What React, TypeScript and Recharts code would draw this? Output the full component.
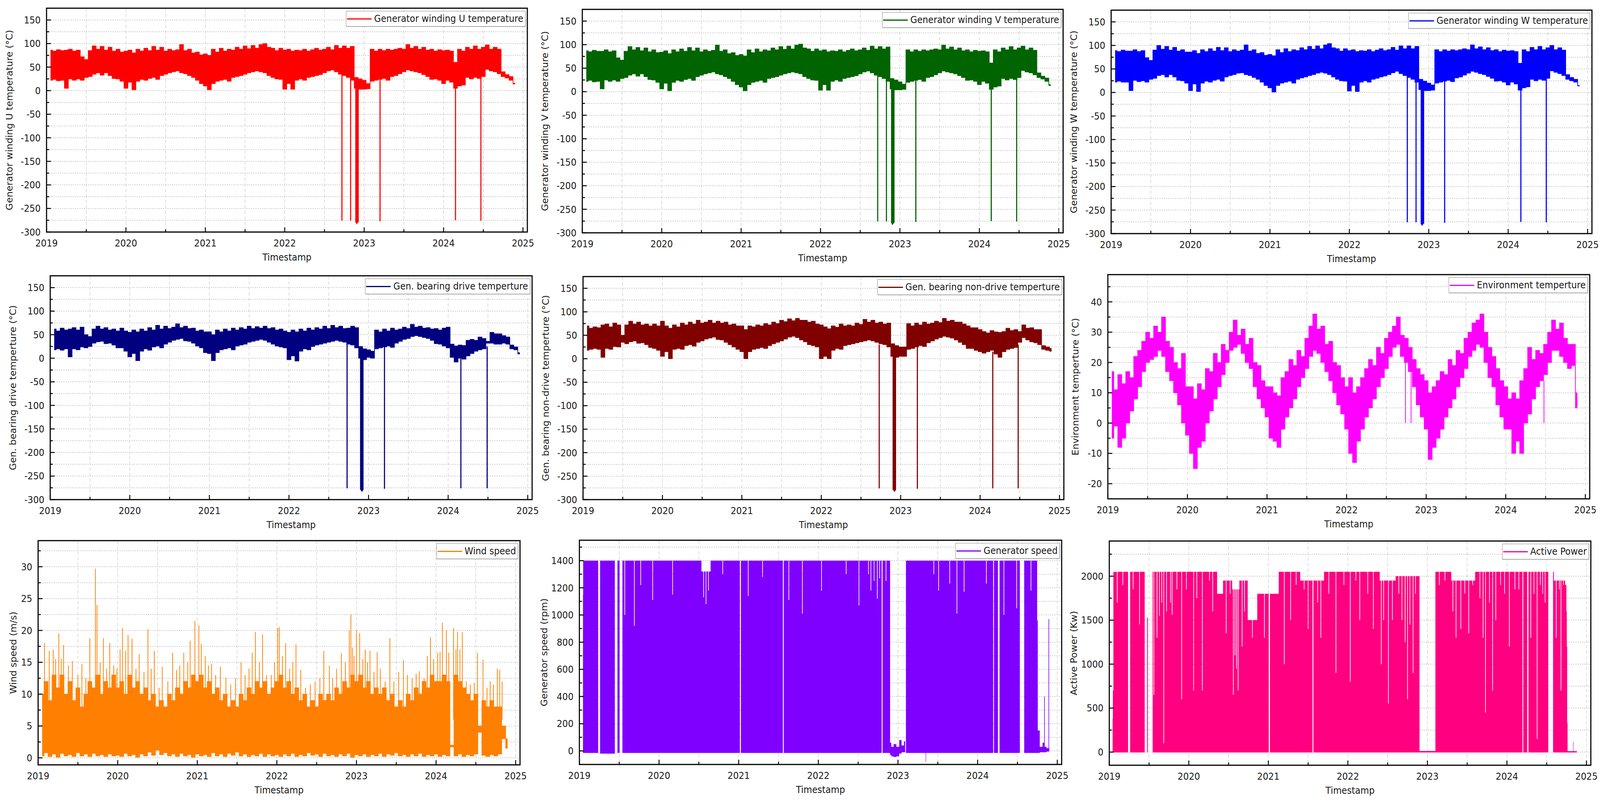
import {
  Area,
  CartesianGrid,
  ComposedChart,
  Legend,
  Line,
  ReferenceArea,
  XAxis,
  YAxis,
} from 'recharts';

const PAGE_W = 4366;
const PAGE_H = 2071;
const FONT = '"DejaVu Sans", Verdana, sans-serif';
const INK = '#1a1a1a';
const X_DOMAIN: [number, number] = [2019, 2025.055];

// sampling times of the envelope arrays (every 0.05 year, 2019.05 .. 2024.90)
const TIMES = Array.from({ length: 118 }, (_, i) => Math.round((2019.05 + i * 0.05) * 100) / 100);

const YEAR_TICKS = [2019, 2019.5, 2020, 2020.5, 2021, 2021.5, 2022, 2022.5, 2023, 2023.5, 2024, 2024.5, 2025];
const TEMP_TICKS = [-300, -275, -250, -225, -200, -175, -150, -125, -100, -75, -50, -25, 0, 25, 50, 75, 100, 125, 150];
const ENV_TICKS = [-20, -15, -10, -5, 0, 5, 10, 15, 20, 25, 30, 35, 40, 45];
const WIND_TICKS = [0, 2.5, 5, 7.5, 10, 12.5, 15, 17.5, 20, 22.5, 25, 27.5, 30, 32.5];
const SPEED_TICKS = [0, 100, 200, 300, 400, 500, 600, 700, 800, 900, 1000, 1100, 1200, 1300, 1400, 1500];
const POWER_TICKS = [0, 250, 500, 750, 1000, 1250, 1500, 1750, 2000, 2250];

// ---- winding U (rows: one year each, 20 samples) ----
const U_HI = [
  86, 84, 87, 85, 86, 88, 84, 86, 72, 66, 85, 95, 88, 94, 86, 92, 84, 88, 82, 84,
  86, 80, 88, 84, 90, 85, 94, 86, 92, 84, 88, 85, 87, 98, 85, 88, 80, 82, 76, 78,
  75, 88, 82, 90, 84, 88, 86, 92, 88, 95, 89, 96, 90, 98, 100, 92, 90, 85, 90, 86,
  88, 84, 86, 85, 88, 84, 87, 90, 86, 88, 92, 87, 96, 90, 95, 90, 94, 28, 25, 22,
  15, 88, 84, 88, 85, 88, 86, 88, 90, 88, 98, 90, 94, 88, 92, 86, 88, 84, 87, 85,
  86, 84, 60, 88, 84, 92, 88, 95, 88, 92, 97, 88, 92, 88, 40, 34, 30, 16,
];
const U_LO = [
  22, 24, 21, 22, 5, 25, 22, 25, 22, 28, 30, 35, 38, 33, 38, 32, 26, 25, 20, 5,
  18, 2, 20, 24, 22, 26, 28, 24, 32, 35, 38, 40, 42, 38, 36, 32, 28, 22, 15, 10,
  2, 15, 20, 22, 24, 20, 28, 30, 32, 35, 38, 40, 42, 40, 38, 32, 28, 25, 24, 3,
  15, 3, 22, 25, 22, 28, 30, 32, 34, 38, 42, 44, 40, 35, 32, 28, 22, 5, 3, 3,
  4, 20, 22, 24, 26, 22, 30, 32, 36, 40, 44, 42, 40, 38, 34, 30, 24, 25, 22, 15,
  22, 18, 5, 10, 12, 28, 25, 28, 26, 30, 45, 42, 40, 36, 30, 27, 22, 14,
];
const U_DROPS = [
  [2022.72, 40, -276], [2022.83, 30, -276], [2022.895, 20, -280], [2022.905, 20, -283],
  [2022.915, 20, -281], [2022.925, 20, -279], [2023.2, 30, -277], [2024.15, 20, -275], [2024.47, 30, -276],
];

// ---- winding V ----
const V_HI = [
  87, 85, 88, 86, 86, 89, 85, 87, 72, 67, 86, 96, 89, 94, 87, 93, 85, 89, 83, 84,
  87, 81, 89, 85, 91, 86, 94, 87, 93, 85, 89, 86, 88, 99, 86, 89, 81, 83, 77, 79,
  76, 89, 83, 91, 85, 89, 87, 93, 89, 96, 90, 97, 91, 99, 101, 93, 91, 86, 91, 87,
  89, 85, 87, 86, 89, 85, 88, 91, 87, 89, 93, 88, 97, 91, 96, 91, 95, 28, 25, 21,
  16, 89, 85, 89, 86, 89, 87, 89, 91, 89, 99, 91, 95, 89, 93, 87, 89, 85, 88, 86,
  87, 85, 61, 89, 85, 93, 89, 96, 89, 93, 97, 89, 93, 88, 40, 33, 29, 15,
];
const V_LO = [
  22, 24, 21, 22, 6, 25, 22, 25, 22, 28, 30, 35, 38, 33, 38, 32, 26, 25, 20, 6,
  18, 2, 20, 24, 22, 26, 28, 24, 32, 35, 38, 40, 42, 38, 36, 32, 28, 22, 15, 10,
  2, 15, 20, 22, 24, 20, 28, 30, 32, 35, 38, 40, 42, 40, 38, 32, 28, 25, 24, 3,
  15, 3, 22, 25, 22, 28, 30, 32, 34, 38, 42, 44, 40, 35, 32, 28, 22, 6, 4, 4,
  5, 20, 22, 24, 26, 22, 30, 32, 36, 40, 44, 42, 40, 38, 34, 30, 24, 25, 22, 15,
  22, 18, 5, 10, 12, 28, 25, 28, 26, 30, 45, 42, 40, 36, 30, 27, 22, 13,
];
const V_DROPS = [
  [2022.72, 40, -276], [2022.83, 30, -276], [2022.895, 20, -280], [2022.905, 20, -283],
  [2022.915, 20, -281], [2022.925, 20, -279], [2023.2, 30, -277], [2024.15, 20, -275], [2024.47, 30, -276],
];

// ---- winding W ----
const W_HI = [
  89, 87, 90, 88, 88, 91, 87, 89, 74, 68, 90, 100, 92, 98, 90, 96, 88, 91, 86, 86,
  89, 83, 91, 87, 93, 88, 96, 89, 95, 87, 91, 88, 90, 101, 88, 91, 83, 85, 79, 81,
  78, 91, 85, 93, 87, 91, 89, 95, 91, 98, 92, 99, 93, 101, 104, 95, 93, 88, 93, 89,
  91, 87, 89, 88, 91, 87, 90, 93, 89, 91, 96, 90, 99, 93, 99, 93, 98, 28, 24, 20,
  16, 91, 87, 91, 88, 91, 89, 91, 93, 91, 101, 93, 97, 91, 95, 89, 91, 87, 90, 88,
  89, 87, 62, 91, 87, 96, 91, 98, 91, 95, 100, 91, 95, 90, 38, 32, 28, 15,
];
const W_LO = [
  22, 24, 22, 22, 4, 26, 23, 25, 22, 28, 30, 36, 38, 33, 38, 33, 26, 25, 20, 4,
  18, 2, 20, 24, 22, 26, 28, 24, 33, 36, 38, 41, 42, 38, 36, 32, 28, 22, 15, 10,
  1, 15, 20, 22, 24, 20, 28, 31, 33, 36, 38, 41, 43, 41, 38, 33, 28, 25, 24, 3,
  15, 2, 22, 25, 22, 28, 30, 33, 35, 38, 42, 45, 40, 36, 32, 28, 22, 6, 4, 4,
  5, 20, 22, 24, 26, 23, 31, 33, 37, 41, 45, 43, 40, 38, 34, 30, 24, 25, 22, 16,
  22, 18, 5, 10, 12, 28, 25, 28, 26, 30, 46, 43, 40, 36, 28, 25, 22, 14,
];
const W_DROPS = [
  [2022.73, 40, -276], [2022.84, 30, -276], [2022.905, 20, -280], [2022.915, 20, -283],
  [2022.925, 20, -281], [2022.935, 20, -279], [2023.2, 30, -277], [2024.16, 20, -275], [2024.48, 30, -276],
];

// ---- generator bearing, drive end ----
const DRIVE_HI = [
  62, 58, 64, 60, 62, 65, 60, 66, 50, 46, 62, 68, 62, 65, 60, 62, 58, 64, 58, 55,
  60, 56, 62, 58, 65, 60, 70, 62, 68, 63, 66, 73, 65, 68, 63, 64, 58, 60, 56, 56,
  50, 60, 56, 62, 58, 64, 60, 65, 62, 68, 63, 67, 64, 68, 63, 65, 60, 62, 58, 55,
  60, 56, 62, 58, 64, 60, 65, 62, 68, 63, 70, 65, 68, 63, 64, 68, 65, 25, 20, 18,
  15, 60, 56, 62, 58, 64, 60, 62, 66, 63, 72, 66, 68, 64, 65, 62, 63, 60, 64, 66,
  30, 26, 28, 27, 38, 40, 38, 45, 42, 36, 55, 52, 52, 48, 45, 28, 24, 12,
];
const DRIVE_LO = [
  18, 20, 17, 20, 3, 20, 18, 24, 22, 25, 32, 35, 36, 31, 32, 28, 22, 22, 15, 3,
  10, -5, 15, 20, 17, 24, 26, 22, 30, 34, 38, 40, 42, 37, 36, 32, 26, 22, 12, 10,
  -5, 12, 18, 20, 22, 18, 26, 28, 30, 34, 36, 38, 40, 38, 34, 30, 26, 24, 22, -3,
  5, -6, 15, 20, 18, 25, 28, 30, 32, 34, 36, 38, 36, 34, 30, 28, 22, 0, -3, 2,
  0, 20, 22, 24, 26, 23, 32, 36, 40, 42, 46, 48, 46, 44, 42, 38, 31, 30, 26, 22,
  2, -8, 0, -2, 5, 10, 15, 18, 20, 32, 32, 30, 30, 32, 30, 20, 18, 9,
];
const DRIVE_DROPS = [
  [2022.73, 30, -276], [2022.9, 15, -279], [2022.91, 15, -282], [2022.92, 15, -283],
  [2022.93, 15, -280], [2023.2, 30, -277], [2024.16, 10, -276], [2024.49, 25, -276],
];

// ---- generator bearing, non-drive end ----
const NONDRIVE_HI = [
  70, 65, 68, 66, 72, 74, 68, 76, 72, 50, 72, 80, 74, 78, 72, 74, 70, 74, 70, 80,
  70, 65, 72, 68, 76, 72, 78, 74, 82, 76, 78, 82, 76, 80, 76, 78, 72, 74, 70, 70,
  62, 70, 68, 72, 70, 75, 72, 78, 75, 82, 79, 85, 81, 86, 82, 82, 78, 80, 74, 72,
  68, 64, 70, 67, 74, 70, 72, 70, 76, 73, 84, 78, 82, 76, 78, 74, 76, 32, 28, 25,
  25, 75, 70, 76, 72, 78, 74, 76, 80, 77, 86, 80, 82, 78, 78, 74, 70, 66, 66, 62,
  58, 55, 60, 57, 56, 58, 65, 60, 62, 58, 72, 65, 66, 62, 62, 28, 25, 22,
];
const NONDRIVE_LO = [
  18, 20, 22, 20, 3, 22, 20, 26, 25, 35, 32, 36, 38, 33, 34, 30, 24, 22, 18, 5,
  15, 0, 20, 22, 20, 28, 30, 27, 35, 38, 42, 44, 46, 41, 40, 35, 30, 25, 20, 15,
  0, 15, 20, 22, 24, 22, 28, 32, 35, 38, 42, 46, 48, 45, 40, 36, 30, 28, 25, 0,
  5, 0, 18, 22, 20, 28, 30, 32, 34, 36, 38, 40, 38, 35, 32, 30, 25, 5, 3, 5,
  5, 20, 22, 25, 28, 26, 34, 38, 42, 45, 48, 46, 44, 40, 35, 30, 22, 22, 18, 15,
  12, 15, 18, 10, 3, 15, 20, 22, 24, 35, 45, 40, 36, 34, 30, 20, 18, 16,
];
const NONDRIVE_DROPS = [
  [2022.73, 30, -276], [2022.905, 15, -279], [2022.915, 15, -282], [2022.925, 15, -283],
  [2022.935, 15, -280], [2023.21, 30, -277], [2024.16, 15, -276], [2024.48, 30, -276],
];

// ---- environment ----
const ENV_HI = [
  17, 11, 16, 13, 17, 15, 22, 24, 27, 30, 28, 32, 30, 35, 27, 25, 20, 18, 23, 12,
  12, 8, 13, 11, 18, 17, 23, 20, 26, 24, 30, 34, 29, 31, 26, 28, 20, 19, 14, 12,
  12, 10, 9, 15, 17, 21, 19, 24, 22, 28, 32, 36, 31, 32, 26, 27, 20, 19, 15, 12,
  15, 10, 12, 15, 18, 21, 19, 25, 23, 28, 30, 32, 35, 29, 28, 25, 21, 18, 16, 14,
  10, 12, 14, 17, 16, 21, 19, 24, 23, 28, 30, 33, 34, 36, 30, 25, 22, 18, 14, 12,
  8, 10, 8, 14, 18, 25, 21, 24, 23, 26, 30, 34, 31, 33, 28, 26, 26, 10,
];
const ENV_LO = [
  -5, -1, -8, -5, 0, 4, 8, 12, 17, 20, 21, 22, 24, 22, 17, 14, 10, 6, 0, -4,
  -10, -15, -8, -6, 0, 4, 8, 12, 16, 20, 24, 25, 26, 23, 20, 18, 12, 8, 5, 2,
  -5, -6, -8, -2, 2, 5, 8, 12, 15, 18, 22, 24, 23, 20, 17, 14, 10, 6, 3, -2,
  -10, -13, -6, -2, 2, 5, 8, 12, 15, 18, 22, 25, 26, 22, 20, 17, 12, 6, 2, -2,
  -12, -8, -5, -2, 2, 5, 8, 12, 15, 18, 22, 24, 26, 25, 20, 15, 12, 6, 2, -2,
  -2, -10, -6, -10, 0, 3, 8, 12, 14, 16, 20, 24, 24, 22, 20, 18, 19, 5,
];
const ENV_DROPS = [[2022.74, 24, 0], [2022.81, 20, 0], [2024.48, 14, 0]];

// ---- wind speed ----
const WIND_HI = [
  10, 12, 9, 13, 11, 13, 10, 12, 9, 11, 8, 10, 12, 11, 13, 10, 12, 11, 13, 11,
  12, 10, 13, 11, 12, 10, 11, 9, 10, 8, 9, 8, 10, 9, 11, 10, 12, 11, 13, 12,
  13, 11, 12, 10, 11, 9, 10, 8, 9, 8, 10, 9, 11, 10, 12, 11, 12, 10, 11, 12,
  13, 11, 12, 10, 11, 9, 10, 8, 9, 8, 10, 9, 10, 9, 11, 10, 12, 11, 13, 12,
  13, 11, 12, 10, 11, 10, 11, 9, 10, 8, 9, 8, 10, 9, 11, 10, 12, 11, 13, 12,
  12, 13, 12, 2, 13, 12, 11, 10, 9, 10, 5, 9, 8, 9, 8, 8, 5, 3,
];
const WIND_LO = [
  0.3, 0.8, 0.2, 0.6, 0.1, 0.7, 0.3, 0.5, 0.2, 0.8, 0.3, 0.6, 0.2, 0.7, 0.3, 0.5, 0.2, 0.6, 0.3, 0.4,
  0.2, 0.7, 0.3, 0.5, 0.1, 0.6, 0.3, 0.9, 0.4, 1.2, 0.5, 0.8, 0.3, 0.6, 0.2, 0.7, 0.3, 0.5, 0.1, 0.6,
  0.3, 0.5, 0.2, 0.8, 0.3, 0.6, 0.2, 0.7, 0.4, 0.9, 0.3, 0.6, 0.2, 0.5, 0.3, 0.7, 0.2, 0.6, 0.3, 0.5,
  0.2, 0.6, 0.3, 0.7, 0.2, 0.5, 0.3, 0.8, 0.4, 0.6, 0.2, 0.7, 0.3, 0.5, 0.2, 0.6, 0.3, 0.7, 0.1, 0.5,
  0.3, 0.6, 0.2, 0.5, 0.3, 0.7, 0.2, 0.6, 0.4, 0.8, 0.3, 0.5, 0.2, 0.6, 0.3, 0.7, 0.2, 0.5, 0.3, 0.6,
  0.2, 0.5, 0.3, 1.7, 0.3, 0.6, 0.2, 0.5, 0.3, 0.6, 4, 0.4, 0.2, 0.5, 0.3, 0.6, 3, 1.5,
];
const WIND_PEAK_BASE = 6;
const WIND_PEAKS = [
  [2019.08, 18], [2019.14, 16.8], [2019.19, 17], [2019.22, 15.5], [2019.26, 19.5], [2019.29, 15.6],
  [2019.32, 17.7], [2019.38, 14.5], [2019.43, 15.2], [2019.5, 13], [2019.55, 14.7], [2019.6, 12.5],
  [2019.65, 18.8], [2019.72, 29.7], [2019.74, 24], [2019.78, 15], [2019.82, 18.8], [2019.86, 14],
  [2019.9, 18], [2019.95, 14.5], [2019.99, 14], [2020.03, 17], [2020.06, 20.4], [2020.1, 16.8],
  [2020.13, 19.3], [2020.18, 18.7], [2020.23, 14], [2020.27, 16.3], [2020.33, 13.5], [2020.38, 20.2],
  [2020.42, 14], [2020.46, 16.8], [2020.52, 11], [2020.56, 14.3], [2020.63, 12], [2020.69, 16.5],
  [2020.74, 13.8], [2020.78, 14.5], [2020.83, 16.5], [2020.88, 15], [2020.91, 18.4], [2020.97, 21.5],
  [2021.02, 20.8], [2021.05, 17.9], [2021.1, 16], [2021.14, 14.5], [2021.18, 14.8], [2021.23, 13],
  [2021.29, 14.3], [2021.36, 12.6], [2021.42, 11.5], [2021.48, 12.5], [2021.55, 15], [2021.6, 13],
  [2021.65, 14], [2021.69, 16.5], [2021.73, 19.8], [2021.78, 15], [2021.82, 19.4], [2021.87, 13],
  [2021.93, 13], [2021.97, 15], [2022.01, 20.4], [2022.03, 20.5], [2022.07, 16], [2022.11, 18],
  [2022.16, 14], [2022.2, 15], [2022.24, 17.8], [2022.3, 13.8], [2022.36, 11], [2022.42, 11.5],
  [2022.48, 12], [2022.54, 12.5], [2022.59, 16.8], [2022.66, 14.5], [2022.7, 12.5], [2022.75, 14],
  [2022.81, 16.4], [2022.86, 15], [2022.91, 20], [2022.93, 22.5], [2022.95, 17.3], [2022.97, 16],
  [2023.0, 20], [2023.04, 19.6], [2023.08, 15.5], [2023.11, 17], [2023.14, 15], [2023.17, 16.8],
  [2023.22, 13.5], [2023.26, 16.6], [2023.3, 14], [2023.36, 12], [2023.42, 18.8], [2023.47, 12],
  [2023.53, 13.5], [2023.59, 15.3], [2023.64, 13], [2023.7, 12.5], [2023.75, 13.2], [2023.79, 13.6],
  [2023.85, 12.5], [2023.89, 16], [2023.93, 18.9], [2023.97, 15.5], [2024.02, 16.5], [2024.05, 16.6],
  [2024.08, 21.2], [2024.13, 20], [2024.16, 16.5], [2024.22, 20.4], [2024.25, 17], [2024.27, 19.8],
  [2024.3, 17], [2024.33, 19.7], [2024.38, 12], [2024.43, 11.5], [2024.48, 11.8], [2024.52, 16.5],
  [2024.59, 15.4], [2024.64, 11], [2024.68, 12], [2024.72, 11.5], [2024.77, 14], [2024.8, 13.8], [2024.83, 12],
];

// ---- generator speed: [t, lo, hi] point, [t, v] notch from the current top, [t] break ----
const SPEED_BAND = [
  [2019.045, -15, 1150], [2019.05, -15, 1400], [2019.236, -15, 1400], [2019.237],
  [2019.26, -20, 1400], [2019.445, -20, 1400], [2019.446],
  [2019.478, -15, 1400], [2019.505, -15, 1400], [2019.506],
  [2019.54, -15, 1400], [2019.57, 1000], [2019.69, 920], [2019.77, 1220], [2019.92, 1110],
  [2020.17, 1150], [2020.53, -15, 1400], [2020.535, -15, 1320], [2020.56, 1130], [2020.59, 1080],
  [2020.62, 1180], [2020.645, -15, 1320], [2020.65, -15, 1400], [2020.8, 1300], [2021.015, -15, 1400], [2021.016],
  [2021.028, -15, 1400], [2021.12, 1140], [2021.3, 1280], [2021.555, -15, 1400], [2021.556],
  [2021.566, -15, 1400], [2021.63, 1110], [2021.8, 1010], [2022.04, 1180], [2022.35, 1300],
  [2022.51, 1070], [2022.63, 1300], [2022.66, 1180], [2022.7, 1250], [2022.74, 1120], [2022.77, 1270],
  [2022.795, -15, 1400], [2022.796],
  [2022.806, -15, 1400], [2022.85, 1250], [2022.9, -15, 1400],
  [2022.902, -30, 60], [2022.93, -40, 30], [2022.96, -45, 50], [2023.0, -40, 30], [2023.03, -20, 80],
  [2023.06, -10, 40], [2023.09, -10, 70], [2023.095],
  [2023.1, -15, 1400], [2023.345, -15, 1400], [2023.35, -80, 1400], [2023.355, -15, 1400],
  [2023.45, 1300], [2023.51, 1180], [2023.65, 1230], [2023.74, 1010], [2023.83, 1170], [2024.11, 1230],
  [2024.195, -15, 1400], [2024.196],
  [2024.205, -15, 1400], [2024.255, -15, 1400], [2024.256],
  [2024.275, -15, 1400], [2024.33, 1000], [2024.49, 1050], [2024.53, -15, 1400], [2024.531],
  [2024.585, -15, 1400], [2024.67, 1180], [2024.745, -15, 1400], [2024.75, -15, 960],
  [2024.76, -15, 150], [2024.8, -10, 30], [2024.83, -10, 60], [2024.84, -10, 400], [2024.845, -10, 30],
  [2024.885, -5, 20], [2024.895, -5, 970], [2024.9, -5, 20],
];

// ---- active power (same notation) ----
const POWER_BAND = [
  [2019.042, -5, 380], [2019.048, -5, 700], [2019.055, -5, 2050], [2019.1, 1700], [2019.17, 1900],
  [2019.236, -5, 2050], [2019.237],
  [2019.262, -5, 2050], [2019.3, 1850], [2019.38, 1450], [2019.445, -5, 2050], [2019.446],
  [2019.475, -5, 1530], [2019.485, -5, 1530], [2019.486],
  [2019.545, -5, 2050], [2019.56, 650], [2019.6, 1300], [2019.63, 1550], [2019.66, 1700], [2019.685, 100],
  [2019.72, 1600], [2019.77, 1700], [2019.79, 1560], [2019.85, 1850], [2019.91, 600], [2019.97, 1850],
  [2020.06, 700], [2020.1, 1750], [2020.17, 700], [2020.26, 1950], [2020.3, 1600],
  [2020.355, -5, 2050], [2020.356, -5, 1800], [2020.43, -5, 1800], [2020.431, -5, 1950], [2020.47, 1350],
  [2020.52, 1800], [2020.545, -5, 1950], [2020.546, -5, 1850], [2020.56, 650], [2020.58, 1100], [2020.6, 950],
  [2020.62, 700], [2020.635, -5, 1850], [2020.636, -5, 1950], [2020.67, 1200], [2020.7, 1600],
  [2020.74, -5, 1950], [2020.741, -5, 1500], [2020.8, 1300], [2020.86, -5, 1500], [2020.861, -5, 1800],
  [2020.95, 1300], [2021.005, -5, 1800], [2021.006],
  [2021.02, -5, 1800], [2021.13, -5, 1800], [2021.131, -5, 2050], [2021.2, 1000], [2021.28, 1500],
  [2021.35, 1900], [2021.4, -5, 2050], [2021.401, -5, 1950], [2021.45, 1850], [2021.5, 1400],
  [2021.555, -5, 1950], [2021.556],
  [2021.566, -5, 1950], [2021.62, 1700], [2021.66, 1300], [2021.7, -5, 1950], [2021.701, -5, 2050],
  [2021.76, 1800], [2021.85, 900], [2021.95, 1900], [2022.03, 800], [2022.1, 1950], [2022.15, 1500],
  [2022.25, 1800], [2022.32, 1400], [2022.4, -5, 2050], [2022.401, -5, 1950], [2022.42, 1000],
  [2022.45, 1500], [2022.51, 550], [2022.56, 1500], [2022.6, -5, 1950], [2022.601, -5, 2000],
  [2022.64, 1800], [2022.68, 1500], [2022.72, 1250], [2022.75, 600], [2022.78, 1450], [2022.82, 900],
  [2022.85, 1800], [2022.9, -5, 2000], [2022.901, -5, 12], [2023.1, -5, 12], [2023.101, -5, 2050],
  [2023.15, 1900], [2023.22, 1950], [2023.3, -5, 2050], [2023.301, -5, 1950], [2023.32, 1600],
  [2023.36, 1300], [2023.42, 1400], [2023.47, 1800], [2023.52, 1350], [2023.57, 1900],
  [2023.6, -5, 1950], [2023.601, -5, 2050], [2023.66, 1750], [2023.7, 1300], [2023.73, 450],
  [2023.78, 1700], [2023.82, 700], [2023.86, 1500], [2023.92, 1900], [2023.97, 1800], [2024.03, 1200],
  [2024.1, 1850], [2024.15, 1850], [2024.195, -5, 2050], [2024.196],
  [2024.205, -5, 2050], [2024.255, -5, 2050], [2024.256],
  [2024.27, -5, 2050], [2024.3, 1300], [2024.34, 1800], [2024.38, 150], [2024.42, 1900], [2024.45, 1800],
  [2024.48, 1700], [2024.52, -5, 2050], [2024.521],
  [2024.58, -5, 2050], [2024.6, -5, 1950], [2024.62, 1300], [2024.66, 1850], [2024.68, 700], [2024.71, 1900],
  [2024.745, -5, 1900], [2024.75, -5, 1600], [2024.755, -5, 1200], [2024.76, -5, 330], [2024.765, -5, 10],
  [2024.83, -5, 10], [2024.835, -5, 120], [2024.84, -5, 10], [2024.88, -5, 10],
];

type Num = number | null;
type BandPoint = { t: number; band: [Num, Num] };
type LinePoint = { t: number; v: Num };

function gridBand(lo: number[], hi: number[]): BandPoint[] {
  return TIMES.map((t, i) => ({ t, band: [lo[i] ?? null, hi[i] ?? null] }));
}

const NOTCH_HALF = 0.008;
function stepBand(spec: number[][]): BandPoint[] {
  const out: BandPoint[] = [];
  let lo = 0;
  let top = 0;
  for (const p of spec) {
    if (p.length === 1) {
      out.push({ t: p[0], band: [null, null] });
    } else if (p.length === 2) {
      out.push(
        { t: p[0] - NOTCH_HALF, band: [lo, top] },
        { t: p[0], band: [lo, p[1]] },
        { t: p[0] + NOTCH_HALF, band: [lo, top] },
      );
    } else {
      lo = p[1];
      top = p[2];
      out.push({ t: p[0], band: [lo, top] });
    }
  }
  return out;
}

function dropLines(list: number[][]): LinePoint[] {
  return list.flatMap(([t, from, to]) => [{ t, v: from }, { t, v: to }, { t, v: null }]);
}

function peakLines(list: number[][], base: number): LinePoint[] {
  return list.flatMap(([t, v]) => [{ t, v: base }, { t, v }, { t, v: null }]);
}

type PanelCfg = {
  id: string;
  x: number; y: number; w: number; h: number;
  color: string;
  band: BandPoint[];
  spikes?: LinePoint[];
  spikeWidth?: number;
  solid?: boolean;
  yDomain: [number, number];
  yTicks: number[];
  yMajor: number;
  title: string;
  legend: string;
  titleGap: number;
};

const PANELS: PanelCfg[] = [
  { id: 'u', x: 127, y: 21, w: 1312, h: 593, color: '#ff0000', band: gridBand(U_LO, U_HI),
    spikes: dropLines(U_DROPS), spikeWidth: 3, yDomain: [-300, 175], yTicks: TEMP_TICKS, yMajor: 50,
    title: 'Generator winding U temperature (°C)', legend: 'Generator winding U temperature', titleGap: 102 },
  { id: 'v', x: 1589, y: 24, w: 1312, h: 592, color: '#006400', band: gridBand(V_LO, V_HI),
    spikes: dropLines(V_DROPS), spikeWidth: 3, yDomain: [-300, 175], yTicks: TEMP_TICKS, yMajor: 50,
    title: 'Generator winding V temperature (°C)', legend: 'Generator winding V temperature', titleGap: 102 },
  { id: 'w', x: 3032, y: 26, w: 1312, h: 592, color: '#0000ff', band: gridBand(W_LO, W_HI),
    spikes: dropLines(W_DROPS), spikeWidth: 3, yDomain: [-300, 175], yTicks: TEMP_TICKS, yMajor: 50,
    title: 'Generator winding W temperature (°C)', legend: 'Generator winding W temperature', titleGap: 102 },
  { id: 'drive', x: 137, y: 706, w: 1315, h: 593, color: '#000080', band: gridBand(DRIVE_LO, DRIVE_HI),
    spikes: dropLines(DRIVE_DROPS), spikeWidth: 3, yDomain: [-300, 175], yTicks: TEMP_TICKS, yMajor: 50,
    title: 'Gen. bearing drive temperture (°C)', legend: 'Gen. bearing drive temperture', titleGap: 102 },
  { id: 'nondrive', x: 1591, y: 708, w: 1312, h: 591, color: '#800000', band: gridBand(NONDRIVE_LO, NONDRIVE_HI),
    spikes: dropLines(NONDRIVE_DROPS), spikeWidth: 3, yDomain: [-300, 175], yTicks: TEMP_TICKS, yMajor: 50,
    title: 'Gen. bearing non-drive temperture (°C)', legend: 'Gen. bearing non-drive temperture', titleGap: 102 },
  { id: 'env', x: 3023, y: 703, w: 1315, h: 594, color: '#ff00ff', band: gridBand(ENV_LO, ENV_HI),
    spikes: dropLines(ENV_DROPS), spikeWidth: 2, yDomain: [-25, 49], yTicks: ENV_TICKS, yMajor: 10,
    title: 'Environment temperture (°C)', legend: 'Environment temperture', titleGap: 89 },
  { id: 'wind', x: 104, y: 1384, w: 1315, h: 594, color: '#ff8000', band: gridBand(WIND_LO, WIND_HI),
    spikes: peakLines(WIND_PEAKS, WIND_PEAK_BASE), spikeWidth: 2, yDomain: [-1.1, 34.1], yTicks: WIND_TICKS, yMajor: 5,
    title: 'Wind speed (m/s)', legend: 'Wind speed', titleGap: 68 },
  { id: 'speed', x: 1581, y: 1383, w: 1316, h: 594, color: '#8000ff', band: stepBand(SPEED_BAND), solid: true,
    yDomain: [-100, 1550], yTicks: SPEED_TICKS, yMajor: 200,
    title: 'Generator speed (rpm)', legend: 'Generator speed', titleGap: 96 },
  { id: 'power', x: 3027, y: 1385, w: 1314, h: 594, color: '#ff0080', band: stepBand(POWER_BAND), solid: true,
    yDomain: [-150, 2400], yTicks: POWER_TICKS, yMajor: 500,
    title: 'Active Power (Kw)', legend: 'Active Power', titleGap: 97 },
];

const textStyle = { fontFamily: FONT, fontSize: 24, fill: INK };

function renderXTick(props: any) {
  const { x, y, payload } = props;
  const v = payload.value;
  const major = Number.isInteger(v);
  return (
    <g>
      <line x1={x} x2={x} y1={y} y2={y - (major ? 12 : 7)} stroke="#000" strokeWidth={2.5} />
      {major && (
        <text x={x} y={y + 28} textAnchor="middle" dominantBaseline="central" style={textStyle}>
          {v}
        </text>
      )}
    </g>
  );
}

function renderYTick(props: any, step: number) {
  const { x, y, payload } = props;
  const v = payload.value;
  const major = Math.abs(v % step) < 1e-9;
  return (
    <g>
      <line x1={x} x2={x + (major ? 12 : 7)} y1={y} y2={y} stroke="#000" strokeWidth={2.5} />
      {major && (
        <text x={x - 16} y={y} textAnchor="end" dominantBaseline="central" style={textStyle}>
          {v}
        </text>
      )}
    </g>
  );
}

function renderXTitle(props: any) {
  const vb = props.viewBox;
  if (!vb) return null;
  return (
    <text x={vb.x + vb.width / 2} y={vb.y + 64} textAnchor="middle" dominantBaseline="central" style={textStyle}>
      Timestamp
    </text>
  );
}

function renderYTitle(props: any, text: string, gap: number) {
  const vb = props.viewBox;
  if (!vb) return null;
  const cx = vb.x + vb.width - gap;
  const cy = vb.y + vb.height / 2;
  return (
    <text
      x={cx}
      y={cy}
      transform={`rotate(-90, ${cx}, ${cy})`}
      textAnchor="middle"
      dominantBaseline="central"
      style={textStyle}
    >
      {text}
    </text>
  );
}

function LegendBox({ color, text }: { color: string; text: string }) {
  return (
    <div
      style={{
        display: 'flex',
        alignItems: 'center',
        height: 38,
        padding: '0 5px 0 2px',
        border: '1.5px solid #8a8a8a',
        boxShadow: '1px 1px 0 #c4c4c4',
        background: '#fff',
        fontFamily: FONT,
        fontSize: 24,
        color: INK,
        whiteSpace: 'nowrap',
      }}
    >
      <span style={{ display: 'inline-block', width: 67, height: 3, background: color, marginRight: 7 }} />
      {text}
    </div>
  );
}

function Panel({ p }: { p: PanelCfg }) {
  const [y0, y1] = p.yDomain;
  return (
    <div style={{ position: 'absolute', left: p.x - 130, top: p.y - 20 }}>
      <ComposedChart
        width={p.w + 150}
        height={p.h + 110}
        data={p.band}
        margin={{ top: 20, right: 20, bottom: 20, left: 20 }}
      >
        <CartesianGrid vertical={false} stroke="#b9b9b9" strokeDasharray="3 3" strokeWidth={1.5} />
        <CartesianGrid horizontal={false} stroke="#d2d2d2" strokeDasharray="9 5" strokeWidth={1.5} />
        <XAxis
          dataKey="t"
          type="number"
          domain={X_DOMAIN}
          ticks={YEAR_TICKS}
          interval={0}
          allowDataOverflow
          height={90}
          axisLine={false}
          tickLine={false}
          tickSize={0}
          tickMargin={0}
          tick={renderXTick}
          label={renderXTitle}
        />
        <YAxis
          type="number"
          domain={p.yDomain}
          ticks={p.yTicks}
          interval={0}
          allowDataOverflow
          width={110}
          axisLine={false}
          tickLine={false}
          tickSize={0}
          tickMargin={0}
          tick={(t: any) => renderYTick(t, p.yMajor)}
          label={(l: any) => renderYTitle(l, p.title, p.titleGap)}
        />
        <Area
          dataKey="band"
          type="step"
          name={p.legend}
          stroke={p.solid ? 'none' : p.color}
          strokeWidth={1.5}
          fill={p.color}
          fillOpacity={1}
          dot={false}
          activeDot={false}
          isAnimationActive={false}
        />
        {p.spikes && (
          <Line
            data={p.spikes}
            dataKey="v"
            type="linear"
            stroke={p.color}
            strokeWidth={p.spikeWidth}
            dot={false}
            activeDot={false}
            legendType="none"
            isAnimationActive={false}
          />
        )}
        <ReferenceArea
          x1={X_DOMAIN[0]}
          x2={X_DOMAIN[1]}
          y1={y0}
          y2={y1}
          fill="none"
          stroke="#000"
          strokeWidth={3}
          ifOverflow="visible"
        />
        <Legend
          align="center"
          verticalAlign="middle"
          layout="horizontal"
          wrapperStyle={{ top: 27, right: 25, left: 'auto', width: 'auto' }}
          content={() => <LegendBox color={p.color} text={p.legend} />}
        />
      </ComposedChart>
    </div>
  );
}

export default function App() {
  // fit the 4366 x 2071 layout into whatever viewport the page really has
  const vw = typeof window !== 'undefined' ? window.innerWidth : PAGE_W;
  const vh = typeof window !== 'undefined' ? window.innerHeight : PAGE_H;
  const sx = vw / PAGE_W;
  const sy = vh / PAGE_H;
  return (
    <div
      style={{
        position: 'fixed',
        left: 0,
        top: 0,
        width: PAGE_W,
        height: PAGE_H,
        background: '#fff',
        overflow: 'hidden',
        transform: `scale(${sx}, ${sy})`,
        transformOrigin: '0 0',
      }}
    >
      {PANELS.map((p) => (
        <Panel key={p.id} p={p} />
      ))}
    </div>
  );
}
